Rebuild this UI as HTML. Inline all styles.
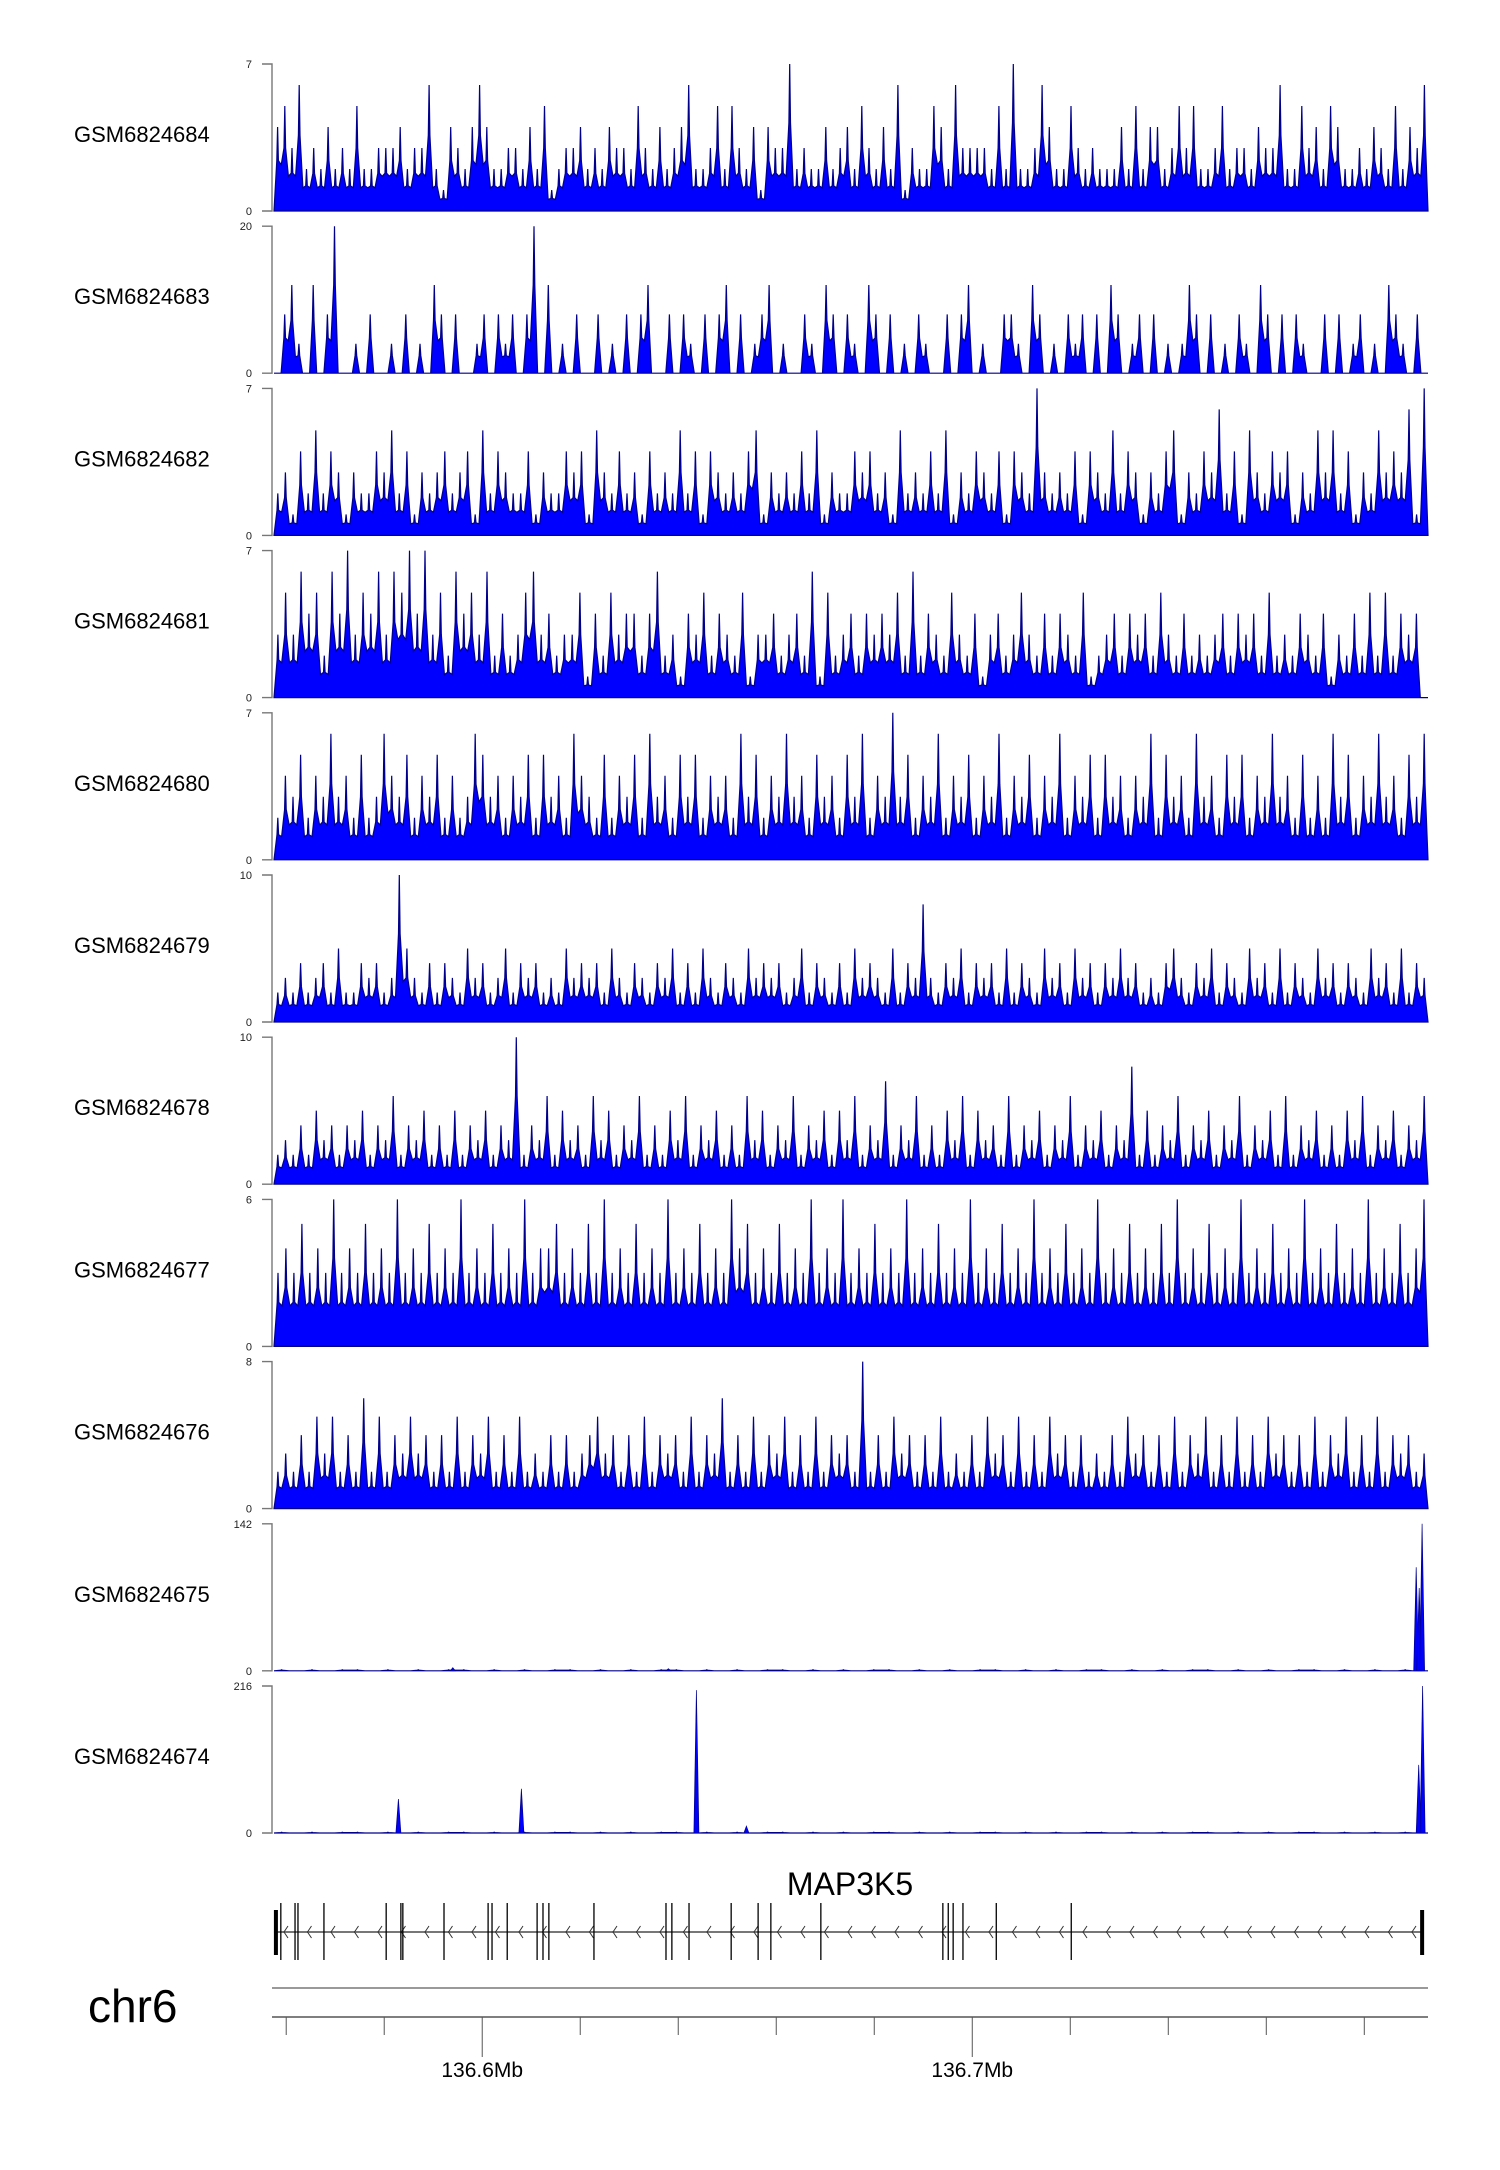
<!DOCTYPE html>
<html><head><meta charset="utf-8">
<style>
html,body{margin:0;padding:0;background:#fff;}
svg{display:block;font-family:"Liberation Sans",sans-serif;}
</style></head>
<body>
<svg id="chart" width="1500" height="2170" viewBox="0 0 1500 2170" xmlns="http://www.w3.org/2000/svg">
<g id="tracks"></g>
<g id="gene"></g>
<g id="axis"></g>
</svg>
<script>
// ---- data ----
const trackNames = ["GSM6824684","GSM6824683","GSM6824682","GSM6824681","GSM6824680","GSM6824679","GSM6824678","GSM6824677","GSM6824676","GSM6824675","GSM6824674"];
const trackMax = [7,20,7,7,7,10,10,6,8,142,216];
const series684 = "4536232423252233342336214324642233242512334232433253242346223525324143372322423425324261322542633332527223642253232224252442353522352332433622534254223243252436";
const series683 = "08c40c08k0040800408040c8080048084808k0c0408008040808c0080840808c08048c0400840c80840c8080408400808c04008840c8040848080c8048080404c808040840c80808400808048040c84080";
const series682 = "23142524313224352413234234152432241322434153242314232524143232451323242513224342315232425132432414327323241432524313245132436241532434132535241325343617";
const series681 = "35364526473546365747352645362423563423351425344246231435243251334234261523424343526243253241342353242432512342434253242323424342523243241324252524340";
const series680 = "24352436342523643524352423653424352534264325243526342535243426352436342534253624373524362435243624352436243525342436253426342535243634252426352436342536";
const series679 = "2324234252243423a532424325342352434232534342532432435242532432534342352432425343252438324352434252432534253424353423245324352432534252432534243253425243";
const series678 = "2324253424352436243524252435243a2436253426352436242536243524263524362435253624372436242536253426243524362435243825243624352436243526243524253624352436";
const series677 = "3435343634353436343534363435343634453435363435343634353436453435343634363435343634353436343534363435343634353435363435343634353436343534363435346";
const series676 = "2324253524262524353424252435242523242423453424252434252436242524352425243428242534242523242534252425342423242534242524352425242534242524352425243423";
const series675 = "1010110101011010101101010110101011010101101010110101011010101101010110101010";
const series674 = "1010110101011010101101010110101011010101101010110101011010101101010110101010";
const peaks675Pos = [136.5940, 136.6380, 136.7906, 136.7912, 136.7918];
const peaks675Val = [3, 2, 100, 80, 142];
const peaks674Pos = [136.5829, 136.6080, 136.6437, 136.6539, 136.7911, 136.7919];
const peaks674Val = [50, 65, 210, 10, 100, 216];
const exonPos = [136.5579,136.5589,136.5618,136.5624,136.5677,136.5804,136.5834,136.5838,136.5922,136.6012,136.6020,136.6051,136.6112,136.6124,136.6136,136.6228,136.6375,136.6387,136.6422,136.6508,136.6563,136.6589,136.6691,136.6940,136.6951,136.6961,136.6981,136.7049,136.7202,136.7918];
const geneStart = 136.5575, geneEnd = 136.7920;
const axisTicks = [136.56,136.58,136.60,136.62,136.64,136.66,136.68,136.70,136.72,136.74,136.76,136.78];
const axisLabelTicks = [136.6,136.7];
const axisLabels = ["136.6Mb","136.7Mb"];
const seriesList = [series684,series683,series682,series681,series680,series679,series678,series677,series676,series675,series674];

// ---- layout ----
const NS = "http://www.w3.org/2000/svg";
const X0 = 272, X1 = 1428, G0 = 136.5571, G1 = 136.7930;
const gx = g => X0 + (g - G0) / (G1 - G0) * (X1 - X0);
const TOP0 = 64, H = 147, STEP = 162.2;
function mk(tag, attrs, parent){const e=document.createElementNS(NS,tag);for(const k in attrs)e.setAttribute(k,attrs[k]);parent.appendChild(e);return e;}

const tracks = document.getElementById('tracks');
trackNames.forEach((name,i)=>{
  const top = TOP0 + i*STEP, base = top + H, max = trackMax[i];
  const y = v => base - v/max*H;
  const g = mk('g',{},tracks);
  
  
  const lab = mk('text',{x:74,y:top+78,'font-size':22,fill:'#000'},g);
  lab.textContent = name;
  
  
  const ax = mk('path',{d:`M${X0-10},${top}H${X0}V${base}H${X0-10}`,stroke:'#777',fill:'none','stroke-width':1.4},g);
  
  
  const t1 = mk('text',{x:X0-20,y:top+4,'font-size':11,'text-anchor':'end',fill:'#222'},g);
  t1.textContent = String(max);
  
  
  const t0 = mk('text',{x:X0-20,y:base+4,'font-size':11,'text-anchor':'end',fill:'#222'},g);
  t0.textContent = "0";
  
  
  const s = seriesList[i];
  const n = s.length;
  const stepX = (X1-X0-2)/n;
  let d = `M${X0+2},${base}`;
  let prev = 0;
  for(let k=0;k<n;k++){
    const xx = X0+2 + (k+0.5)*stepX;
    const v = parseInt(s[k],36);
    if(k>0){
      const valley = Math.min(prev,v)*0.55;
      d += `L${(xx-stepX/2).toFixed(1)},${y(valley).toFixed(1)}`;
    }
    d += `L${(xx-0.8).toFixed(1)},${y(v*0.6).toFixed(1)}L${xx.toFixed(1)},${y(v).toFixed(1)}L${(xx+0.8).toFixed(1)},${y(v*0.6).toFixed(1)}`;
    prev = v;
  }
  d += `L${X1},${base}Z`;
  const area = mk('path',{d,fill:'#0000ff',stroke:'#00008b','stroke-width':1.2,'stroke-linejoin':'miter'},g);
  
  
  let pp=null, pv=null;
  if(i===9){pp=peaks675Pos;pv=peaks675Val;}
  if(i===10){pp=peaks674Pos;pv=peaks674Val;}
  if(pp){
    pp.forEach((p,j)=>{
      const px = gx(p);
      const pk = mk('path',{d:`M${(px-2.5).toFixed(1)},${base}L${px.toFixed(1)},${y(pv[j]).toFixed(1)}L${(px+2.5).toFixed(1)},${base}Z`,fill:'#0000ff',stroke:'#00008b','stroke-width':0.7},g);
      
      
    });
  }
});

// gene
const gene = document.getElementById('gene');
const gt = mk('text',{x:850,y:1895,'font-size':32,'text-anchor':'middle',fill:'#000'},gene);
gt.textContent = "MAP3K5";


const intron = mk('line',{x1:gx(geneStart),x2:gx(geneEnd),y1:1932,y2:1932,stroke:'#777','stroke-width':2},gene);


for(let x=gx(geneStart)+10;x<gx(geneEnd)-8;x+=23.5){
  const c = mk('path',{d:`M${(x+4).toFixed(1)},1926L${x.toFixed(1)},1932L${(x+4).toFixed(1)},1938`,stroke:'#333',fill:'none','stroke-width':1},gene);
  
  
}
exonPos.forEach((p,j)=>{
  const px = gx(p);
  const thick = (j===0||j===exonPos.length-1);
  const e = mk('line',{x1:px,x2:px,y1:thick?1910:1903,y2:thick?1955:1960,stroke:'#000','stroke-width':thick?4:1.3},gene);
  
  
});

// axis
const axis = document.getElementById('axis');
const chr = mk('text',{x:88,y:2022,'font-size':46,fill:'#000'},axis);
chr.textContent = "chr6";


const cl = mk('line',{x1:X0,x2:X1,y1:1988,y2:1988,stroke:'#999','stroke-width':2},axis);


const al = mk('line',{x1:X0,x2:X1,y1:2017,y2:2017,stroke:'#555','stroke-width':1.5},axis);


axisTicks.forEach(t=>{
  const px = gx(t);
  const major = axisLabelTicks.some(m=>Math.abs(m-t)<1e-6);
  const tk = mk('line',{x1:px,x2:px,y1:2017,y2:major?2057:2035,stroke:'#555','stroke-width':1},axis);
  
  
});
axisLabelTicks.forEach((t,j)=>{
  const lt = mk('text',{x:gx(t),y:2077,'font-size':21,'text-anchor':'middle',fill:'#000'},axis);
  lt.textContent = axisLabels[j];
  
  
});
</script>
</body></html>
